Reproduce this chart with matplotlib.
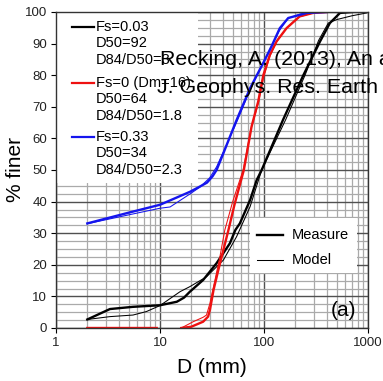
import numpy as np
import matplotlib
matplotlib.use("Agg")
from matplotlib import pyplot as plt
import matplotlib.ticker as mticker
from matplotlib.lines import Line2D
from matplotlib.patches import Rectangle

plt.rcParams['font.family'] = ['Liberation Sans', 'DejaVu Sans']

# grain size curves, D in mm, % finer
black_meas_d = [2, 3.3, 5.5, 10, 14.5, 17, 19.4, 26, 35, 47, 53, 58.6, 73.5, 85, 95, 153, 239, 346, 430, 538, 700]
black_meas_p = [2.7, 6.0, 6.7, 7.2, 8.3, 9.6, 11.5, 15.2, 20.5, 26.8, 31, 33.1, 40.5, 46.8, 50, 66, 80, 90.7, 96.5, 99.7, 100]
black_mod_d = [2, 3.3, 5.5, 7.4, 10, 15.6, 19.4, 28, 40.7, 54.5, 73.5, 95, 162, 248, 335, 415, 500, 700, 970]
black_mod_p = [2.7, 3.6, 4.1, 5.2, 7.1, 11.5, 13.1, 16.2, 21.5, 28.9, 38.4, 50, 66, 80, 91, 96.5, 97.6, 98.8, 99.7]

red_meas_d = [2, 9.3, np.nan, 16, 20, 26, 29, 30.2, 32.7, 36.4, 40.7, 45.5, 52, 64, 76, 88, 98.5, 114, 132, 165, 220, 296, 400]
red_meas_p = [0, 0, np.nan, 0, 0.4, 2, 3.6, 5.7, 12, 18.4, 24.7, 31, 39, 50, 63.8, 71.7, 80, 86.5, 90.7, 94.9, 98.6, 99.7, 100]
red_mod_d = [16, 20.9, 26, 28, 30.2, 33.8, 37.7, 42, 50, 63, 75, 88, 98.5, 114, 132, 165, 220, 296, 400]
red_mod_p = [0, 2, 3.4, 4.1, 7.8, 15.2, 22.6, 31, 40, 50, 63, 71, 79, 86, 90.5, 95, 98.5, 99.7, 100]

blue_meas_d = [2, 5, 10, 19.4, 24, 28.3, 32, 35, 40.7, 47, 54.5, 73.5, 98.5, 118, 142, 171, 258, 400]
blue_meas_p = [33.1, 36.5, 39, 43.1, 44.7, 46, 48, 50, 55.3, 60.5, 65.8, 75.9, 83.9, 89.1, 94.9, 98.1, 99.7, 100]
blue_mod_d = [2, 5, 10, 12.5, 19.4, 24, 30, 35, 41, 48, 56, 75, 100, 120, 140, 170, 240, 400]
blue_mod_p = [33, 35.8, 37.9, 38.3, 42.4, 44.5, 47.5, 51, 56, 61, 66, 76, 84.5, 89.5, 94, 98, 99.7, 100]

legend_groups = [
    ("#000000", ["Fs=0.03", "D50=92", "D84/D50=3"]),
    ("#ee1111", ["Fs=0 (Dm=16)", "D50=64", "D84/D50=1.8"]),
    ("#1515ee", ["Fs=0.33", "D50=34", "D84/D50=2.3"]),
]

W, H = 383, 381
fig = plt.figure(figsize=(W / 100, H / 100), dpi=100)


def fx(px):
    return px / W


def fy(py):
    return 1 - py / H


ax = fig.add_axes([fx(56), fy(328), 312 / W, 316 / H])
ax.set_xscale('log')
ax.set_xlim(1, 1000)
ax.set_ylim(0, 100)

ax.xaxis.set_major_locator(mticker.FixedLocator([1, 10, 100, 1000]))
ax.xaxis.set_major_formatter(mticker.FixedFormatter(["1", "10", "100", "1000"]))
ax.xaxis.set_minor_locator(mticker.LogLocator(base=10, subs=np.arange(2, 10)))
ax.xaxis.set_minor_formatter(mticker.NullFormatter())
ax.yaxis.set_major_locator(mticker.MultipleLocator(10))
ax.yaxis.set_minor_locator(mticker.MultipleLocator(2.5))

ax.grid(True, which='major', color='#505050', linewidth=1.0)
ax.grid(True, which='minor', color='#aaaaaa', linewidth=0.9)
ax.tick_params(which='major', direction='out', length=3.5, width=0.8, labelsize=9.5,
               labelcolor='#222222', pad=3)
ax.tick_params(which='minor', length=0)
for s in ax.spines.values():
    s.set_color('#333333')
    s.set_linewidth(1.0)

# white boxes behind the legends
ax.add_patch(Rectangle((0, (328 - 183) / 316), (198 - 56) / 312, 183 / 316 + 1,
                       transform=ax.transAxes, facecolor='white', edgecolor='none', zorder=1.6))
ax.add_patch(Rectangle(((250 - 56) / 312, (328 - 273) / 316), 107 / 312, 55 / 316,
                       transform=ax.transAxes, facecolor='white', edgecolor='none', zorder=1.6))

thick, thin = 1.7, 0.75
ax.plot(black_mod_d, black_mod_p, color='#000000', lw=thin, zorder=2)
ax.plot(black_meas_d, black_meas_p, color='#000000', lw=thick, zorder=2)
ax.plot(red_mod_d, red_mod_p, color='#ee1111', lw=thin, zorder=2)
ax.plot(red_meas_d, red_meas_p, color='#ee1111', lw=thick, zorder=2)
ax.plot(blue_mod_d, blue_mod_p, color='#1515ee', lw=thin, zorder=2)
ax.plot(blue_meas_d, blue_meas_p, color='#1515ee', lw=thick, zorder=2)

ax.set_xlabel("D (mm)", fontsize=15)
ax.xaxis.set_label_coords(0.5, (328 - 358) / 316)
ax.set_ylabel("% finer", fontsize=15)
ax.yaxis.set_label_coords((25 - 56) / 312, 0.5)

# legend for the three mixtures
tops = [27, 83, 137]
for (col, lines), y0 in zip(legend_groups, tops):
    fig.add_artist(Line2D([fx(72), fx(94)], [fy(y0), fy(y0)], color=col, lw=1.6))
    for i, t in enumerate(lines):
        fig.text(fx(96), fy(y0 + i * 16.4), t, fontsize=10.5, va='center', ha='left')

# legend for line types
fig.add_artist(Line2D([fx(257), fx(283)], [fy(235), fy(235)], color='black', lw=thick))
fig.add_artist(Line2D([fx(257), fx(283)], [fy(260), fy(260)], color='black', lw=thin))
fig.text(fx(292), fy(235), "Measure", fontsize=10.5, va='center')
fig.text(fx(292), fy(260), "Model", fontsize=10.5, va='center')

fig.text(fx(343), fy(310), "(a)", fontsize=15, ha='center', va='center')

# citation overlay
fig.text(fx(160), fy(65), "Recking, A. (2013), An a", fontsize=15.4, va='baseline')
fig.text(fx(157), fy(93), "J. Geophys. Res. Earth", fontsize=15.4, va='baseline')

fig.savefig("out.png", dpi=100)
